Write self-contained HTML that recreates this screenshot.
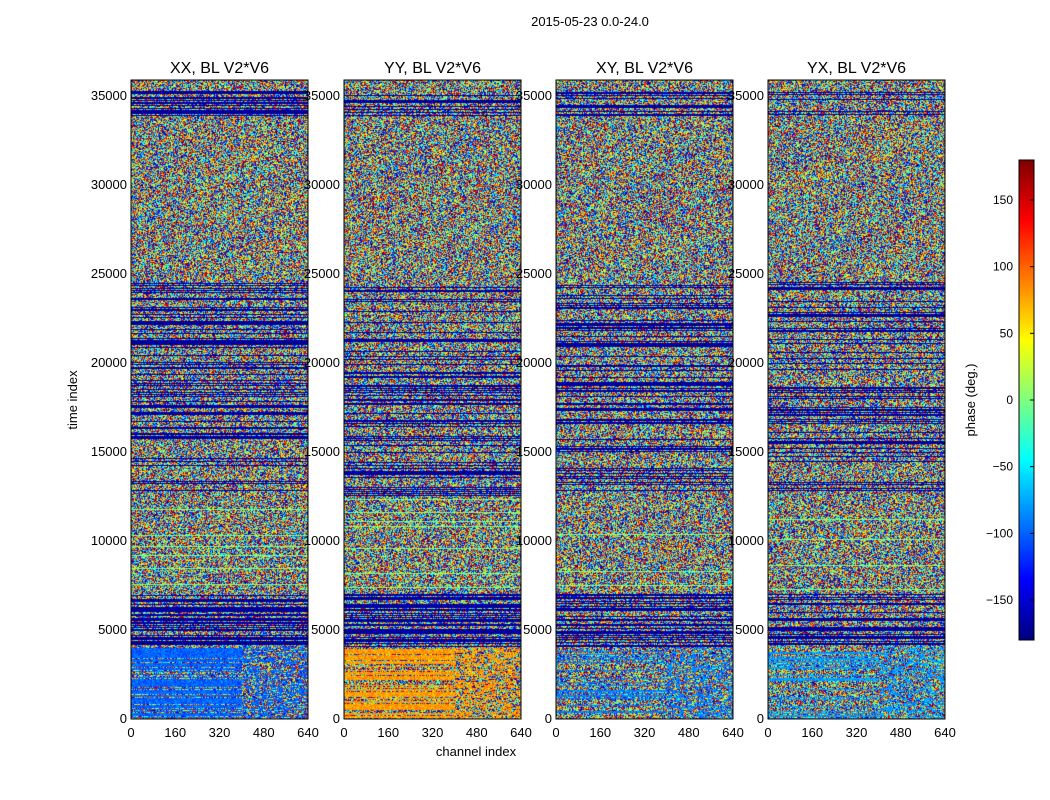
<!DOCTYPE html>
<html><head><meta charset="utf-8">
<style>
body{margin:0;background:#fff;}
#wrap{position:relative;width:1050px;height:800px;overflow:hidden;font-family:"Liberation Sans",sans-serif;}
canvas{position:absolute;}
svg{position:absolute;left:0;top:0;}
</style></head>
<body>
<div id="wrap">
<canvas id="c0" width="177" height="639" style="left:131px;top:80px"></canvas>
<canvas id="c1" width="177" height="639" style="left:344px;top:80px"></canvas>
<canvas id="c2" width="177" height="639" style="left:556px;top:80px"></canvas>
<canvas id="c3" width="177" height="639" style="left:768px;top:80px"></canvas>
<canvas id="cb" width="15" height="480" style="left:1019px;top:160px"></canvas>
<svg id="ov" width="1050" height="800"></svg>
</div>
<script>
// ---- data ----
const panelTitles = ["XX, BL V2*V6","YY, BL V2*V6","XY, BL V2*V6","YX, BL V2*V6"];
const bandStarts = [0, 4000, 7000, 12500, 24500, 33800, 35200];
const bandEnds   = [4000, 7000, 12500, 24500, 33800, 35200, 36000];
const bandNoiseXX = [0.35, 0.6, 0.95, 0.75, 1.0, 0.6, 1.0];
const bandNoiseYY = [0.3, 0.6, 0.95, 0.75, 1.0, 0.6, 1.0];
const bandNoiseXY = [0.7, 0.6, 0.95, 0.75, 1.0, 0.6, 1.0];
const bandNoiseYX = [0.65, 0.6, 0.95, 0.75, 1.0, 0.6, 1.0];
const bandNoises = [bandNoiseXX, bandNoiseYY, bandNoiseXY, bandNoiseYX];
const bandMeanXX = [-100, -170, 0, -170, 0, -170, 0];
const bandMeanYY = [80, -170, 0, -170, 0, -170, 0];
const bandMeanXY = [-90, -170, 0, -170, 0, -170, 0];
const bandMeanYX = [-80, -170, 0, -170, 0, -170, 0];
const bandMeans = [bandMeanXX, bandMeanYY, bandMeanXY, bandMeanYX];
const lowBandSplitChannel = 400;
const xTicks = [0,160,320,480,640];
const yTicks = [0,5000,10000,15000,20000,25000,30000,35000];
const cbTicks = [-150,-100,-50,0,50,100,150];

// ---- scales ----
const panelLeft = [131,344,556,768], panelW = 177, panelTop = 80, panelH = 639;
const tMax = 35843, chMax = 640, phMin = -180, phMax = 180;
function yOf(t){ return 718 - t/5000*89; }
function xOf(p,ch){ return panelLeft[p] + ch/chMax*panelW; }
function cbY(v){ return 160 + (phMax - v)/(phMax-phMin)*480; }

function jet(v){
  const r = Math.min(1,Math.max(0,1.5-Math.abs(4*v-3)));
  const g = Math.min(1,Math.max(0,1.5-Math.abs(4*v-2)));
  const b = Math.min(1,Math.max(0,1.5-Math.abs(4*v-1)));
  return [r*255|0,g*255|0,b*255|0];
}
function hash(a,b,c){
  let h = (a*374761393 + b*668265263 + c*2147483647)|0;
  h = (h^(h>>>13))*1274126177|0; h ^= h>>>16;
  return (h>>>0)/4294967296;
}
function bandIndex(t){ for(let i=0;i<bandStarts.length;i++) if(t>=bandStarts[i]&&t<bandEnds[i]) return i; return bandStarts.length-1; }

for(let p=0;p<4;p++){
  const cv=document.getElementById('c'+p), ctx=cv.getContext('2d');
  const img=ctx.createImageData(panelW,panelH);
  for(let y=0;y<panelH;y++){
    const t=(panelH-1-y)/panelH*tMax;
    const b=bandIndex(t);
    const rowNoisy = hash(y,p+7,3) < bandNoises[p][b];
    for(let x=0;x<panelW;x++){
      const ch=x/panelW*chMax;
      let noisy=rowNoisy;
      if(b===0 && ch>lowBandSplitChannel) noisy = hash(x>>2,y,p)<0.6;
      let ph;
      if(noisy) ph = phMin + hash(x,y,p+1)*(phMax-phMin);
      else ph = bandMeans[p][b] + (hash(x,y,p+11)-0.5)*40;
      const c=jet(Math.min(1,Math.max(0,(ph-phMin)/(phMax-phMin))));
      const k=(y*panelW+x)*4;
      img.data[k]=c[0];img.data[k+1]=c[1];img.data[k+2]=c[2];img.data[k+3]=255;
    }
  }
  ctx.putImageData(img,0,0);
}
(function(){
  const ctx=document.getElementById('cb').getContext('2d');
  for(let y=0;y<480;y++){ const c=jet(1-y/479); ctx.fillStyle=`rgb(${c})`; ctx.fillRect(0,y,15,1); }
})();

// ---- overlay ----
const svg=document.getElementById('ov'), NS="http://www.w3.org/2000/svg";
function mk(tag,attrs,text){ const e=document.createElementNS(NS,tag); for(const k in attrs) e.setAttribute(k,attrs[k]); if(text!==undefined) e.textContent=text; svg.appendChild(e); return e; }
let e=mk('text',{x:590,y:26,'text-anchor':'middle','font-size':13},'2015-05-23 0.0-24.0');
 
for(let p=0;p<4;p++){
  e=mk('rect',{x:panelLeft[p],y:panelTop,width:panelW,height:panelH,fill:'none',stroke:'#000','stroke-width':1});
   
  e=mk('text',{x:panelLeft[p]+panelW/2,y:73,'text-anchor':'middle','font-size':16},panelTitles[p]);
   
  xTicks.forEach(v=>{
    const x=xOf(p,v);
    e=mk('text',{x:x,y:737,'text-anchor':'middle','font-size':13},String(v));
     
  });
  yTicks.forEach(v=>{
    e=mk('text',{x:panelLeft[p]-4,y:yOf(v)+5,'text-anchor':'end','font-size':13},String(v));
     
  });
}
e=mk('text',{x:476,y:756,'text-anchor':'middle','font-size':13},'channel index');
 
e=mk('text',{x:0,y:0,'text-anchor':'middle','font-size':13,transform:'translate(77,400) rotate(-90)'},'time index');
 
e=mk('rect',{x:1019,y:160,width:15,height:480,fill:'none',stroke:'#000'});
 
cbTicks.forEach(v=>{
  const y=cbY(v);
  mk('line',{x1:1030,x2:1034,y1:y,y2:y,stroke:'#000'});
  e=mk('text',{x:1013,y:y+4,'text-anchor':'end','font-size':12},v<0?'\u2212'+(-v):String(v));
   
});
e=mk('text',{x:0,y:0,'text-anchor':'middle','font-size':13,transform:'translate(975,400) rotate(-90)'},'phase (deg.)');
 
</script>
</body></html>
